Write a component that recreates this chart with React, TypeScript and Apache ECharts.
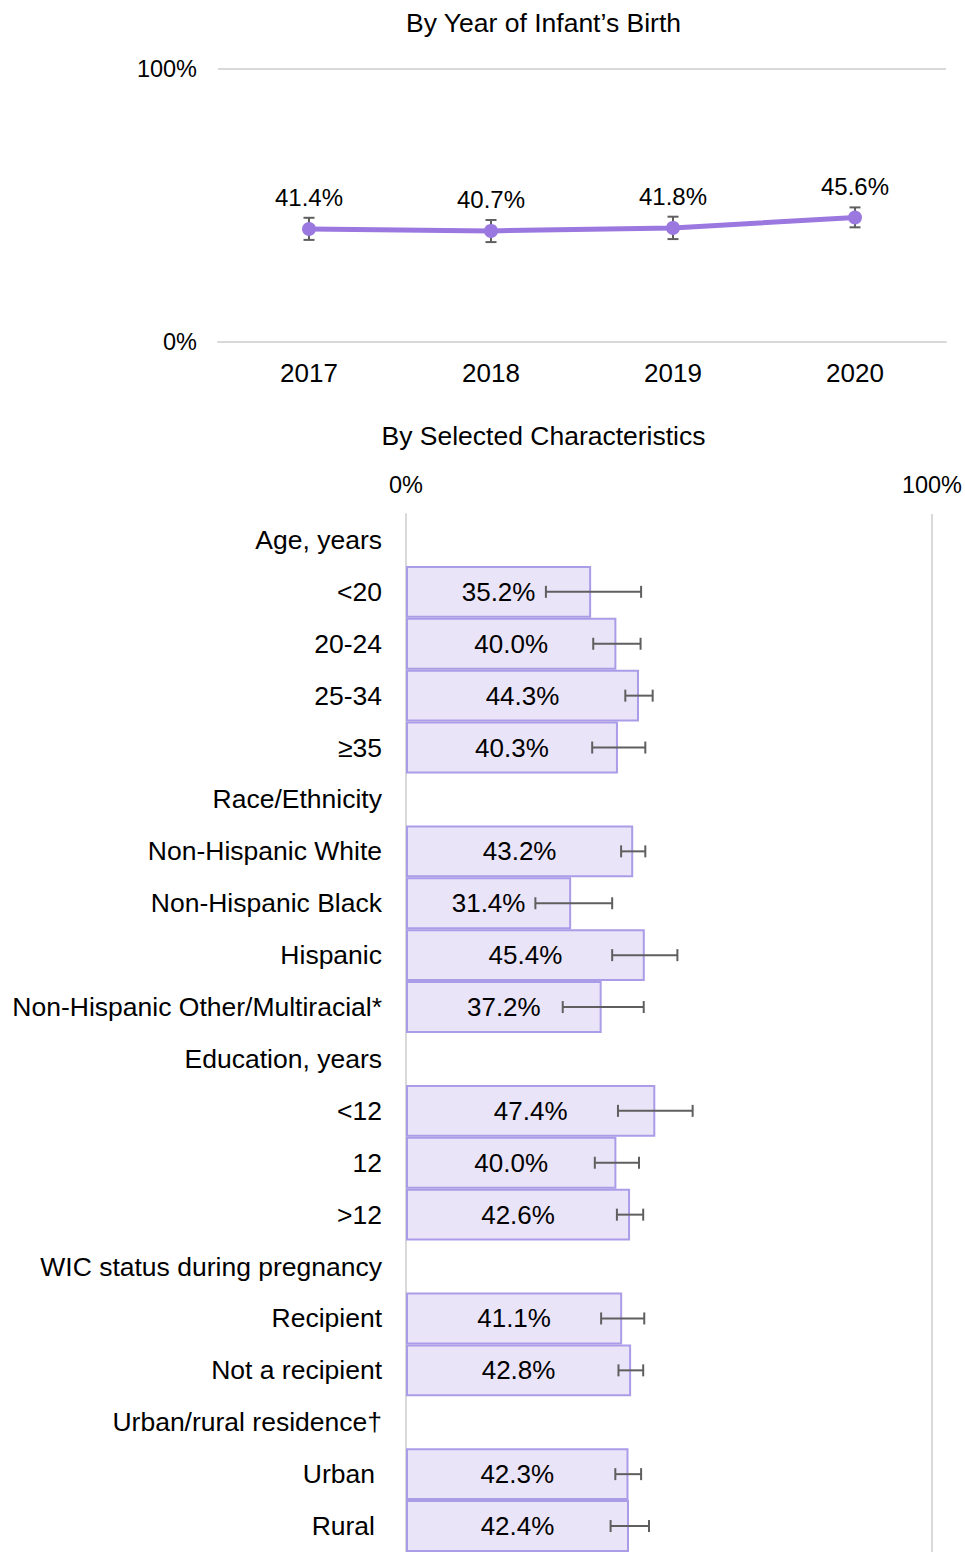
import React, { useEffect, useRef } from "react";
import * as echarts from "echarts";

const years = ["2017", "2018", "2019", "2020"];
const yearValues = [41.4, 40.7, 41.8, 45.6];
const yearLower = [37.4, 36.6, 37.7, 42.0];
const yearUpper = [45.5, 44.7, 45.9, 49.3];

const categories = [
  "Age, years",
  "<20",
  "20-24",
  "25-34",
  "≥35",
  "Race/Ethnicity",
  "Non-Hispanic White",
  "Non-Hispanic Black",
  "Hispanic",
  "Non-Hispanic Other/Multiracial*",
  "Education, years",
  "<12",
  "12",
  ">12",
  "WIC status during pregnancy",
  "Recipient",
  "Not a recipient",
  "Urban/rural residence†",
  "Urban",
  "Rural",
];
const values = [null, 35.2, 40.0, 44.3, 40.3, null, 43.2, 31.4, 45.4, 37.2, null, 47.4, 40.0, 42.6, null, 41.1, 42.8, null, 42.3, 42.4];
const lower = [null, 26.6, 35.6, 41.7, 35.4, null, 40.9, 24.6, 39.2, 29.8, null, 40.3, 35.9, 40.1, null, 37.1, 40.4, null, 39.8, 38.9];
const upper = [null, 44.7, 44.6, 46.9, 45.5, null, 45.5, 39.2, 51.6, 45.2, null, 54.5, 44.3, 45.1, null, 45.3, 45.1, null, 44.7, 46.2];
const paddedLabels = ["Urban", "Rural"];

const titleTop = "By Year of Infant’s Birth";
const titleBottom = "By Selected Characteristics";

const FONT = "Liberation Sans, Arial, Helvetica, sans-serif";
const TEXT = "#000000";
const GRIDLINE = "#d9d9d9";
const LINE_COLOR = "#9b78e0";
const BAR_FILL = "#eae4f8";
const BAR_BORDER = "#ab9ce8";
const ERR = "#5f5f5f";

function errRender(horizontal: boolean, cap: number) {
  return (params: any, api: any) => {
    const idx = api.value(0);
    const lo = api.value(1);
    const hi = api.value(2);
    const p1 = horizontal ? api.coord([lo, idx]) : api.coord([idx, lo]);
    const p2 = horizontal ? api.coord([hi, idx]) : api.coord([idx, hi]);
    const style = { stroke: ERR, lineWidth: 2 };
    const children: any[] = [
      { type: "line", shape: { x1: p1[0], y1: p1[1], x2: p2[0], y2: p2[1] }, style },
    ];
    for (const p of [p1, p2]) {
      children.push(
        horizontal
          ? { type: "line", shape: { x1: p[0], y1: p[1] - cap / 2, x2: p[0], y2: p[1] + cap / 2 }, style }
          : { type: "line", shape: { x1: p[0] - cap / 2, y1: p[1], x2: p[0] + cap / 2, y2: p[1] }, style }
      );
    }
    return { type: "group", children };
  };
}

export default function App() {
  const ref = useRef<HTMLDivElement>(null);
  useEffect(() => {
    if (!ref.current) return;
    const chart = echarts.init(ref.current, undefined, { renderer: "svg" });
    const yearErr = years.map((_, i) => [i, yearLower[i], yearUpper[i]]);
    const catErr: any[] = [];
    categories.forEach((_, i) => {
      if (lower[i] != null && upper[i] != null) catErr.push([i, lower[i], upper[i]]);
    });
    const catData = categories.map((c) =>
      paddedLabels.includes(c) ? { value: c, textStyle: { padding: [0, 7, 0, 0] } } : c
    );
    chart.setOption({
      animation: false,
      textStyle: { fontFamily: FONT },
      graphic: [
        {
          type: "text",
          x: 543.5,
          y: 23,
          style: { text: titleTop, fontSize: 26.5, fontFamily: FONT, fill: TEXT, align: "center", verticalAlign: "middle" },
        },
        {
          type: "text",
          x: 543.5,
          y: 436,
          style: { text: titleBottom, fontSize: 26.5, fontFamily: FONT, fill: TEXT, align: "center", verticalAlign: "middle" },
        },
      ],
      grid: [
        { left: 218, top: 69, width: 728, height: 273, containLabel: false },
        { left: 406, top: 514, width: 526, height: 1040, containLabel: false },
      ],
      xAxis: [
        {
          type: "category",
          gridIndex: 0,
          data: years,
          boundaryGap: true,
          axisLine: { show: true, lineStyle: { color: GRIDLINE, width: 2 } },
          axisTick: { show: false },
          axisLabel: { fontSize: 26, color: TEXT, margin: 18, fontFamily: FONT },
        },
        {
          type: "value",
          gridIndex: 1,
          position: "top",
          min: 0,
          max: 100,
          interval: 100,
          axisLine: { show: false },
          axisTick: { show: false },
          axisLabel: { fontSize: 23.5, color: TEXT, margin: 17, fontFamily: FONT, formatter: (v: number) => v + "%" },
          splitLine: { show: true, lineStyle: { color: GRIDLINE, width: 2 } },
        },
      ],
      yAxis: [
        {
          type: "value",
          gridIndex: 0,
          min: 0,
          max: 100,
          interval: 100,
          axisLine: { show: false },
          axisTick: { show: false },
          axisLabel: { fontSize: 23.5, color: TEXT, margin: 21, fontFamily: FONT, formatter: (v: number) => v + "%" },
          splitLine: { show: true, lineStyle: { color: GRIDLINE, width: 2 } },
        },
        {
          type: "category",
          gridIndex: 1,
          inverse: true,
          data: catData,
          axisLine: { show: true, lineStyle: { color: GRIDLINE, width: 2 } },
          axisTick: { show: false },
          axisLabel: { fontSize: 26.5, color: TEXT, margin: 24, fontFamily: FONT },
        },
      ],
      series: [
        {
          type: "custom",
          xAxisIndex: 0,
          yAxisIndex: 0,
          data: yearErr,
          encode: { x: 0, y: [1, 2] },
          renderItem: errRender(false, 11),
          z: 1,
          silent: true,
        },
        {
          type: "line",
          xAxisIndex: 0,
          yAxisIndex: 0,
          data: yearValues,
          symbol: "circle",
          symbolSize: 14,
          lineStyle: { color: LINE_COLOR, width: 5 },
          itemStyle: { color: LINE_COLOR },
          label: {
            show: true,
            position: "top",
            distance: 12,
            fontSize: 24,
            color: TEXT,
            fontFamily: FONT,
            formatter: (p: any) => p.value.toFixed(1) + "%",
          },
          z: 3,
        },
        {
          type: "bar",
          xAxisIndex: 1,
          yAxisIndex: 1,
          data: values,
          barCategoryGap: 0,
          itemStyle: { color: BAR_FILL, borderColor: BAR_BORDER, borderWidth: 2 },
          label: {
            show: true,
            position: "inside",
            fontSize: 26,
            color: TEXT,
            fontFamily: FONT,
            formatter: (p: any) => (p.value == null ? "" : p.value.toFixed(1) + "%"),
          },
          z: 2,
        },
        {
          type: "custom",
          xAxisIndex: 1,
          yAxisIndex: 1,
          data: catErr,
          encode: { y: 0, x: [1, 2] },
          renderItem: errRender(true, 12),
          z: 4,
          silent: true,
        },
      ],
    });
    return () => chart.dispose();
  }, []);
  return <div ref={ref} style={{ position: "absolute", left: 0, top: 0, width: 965, height: 1552 }} />;
}
